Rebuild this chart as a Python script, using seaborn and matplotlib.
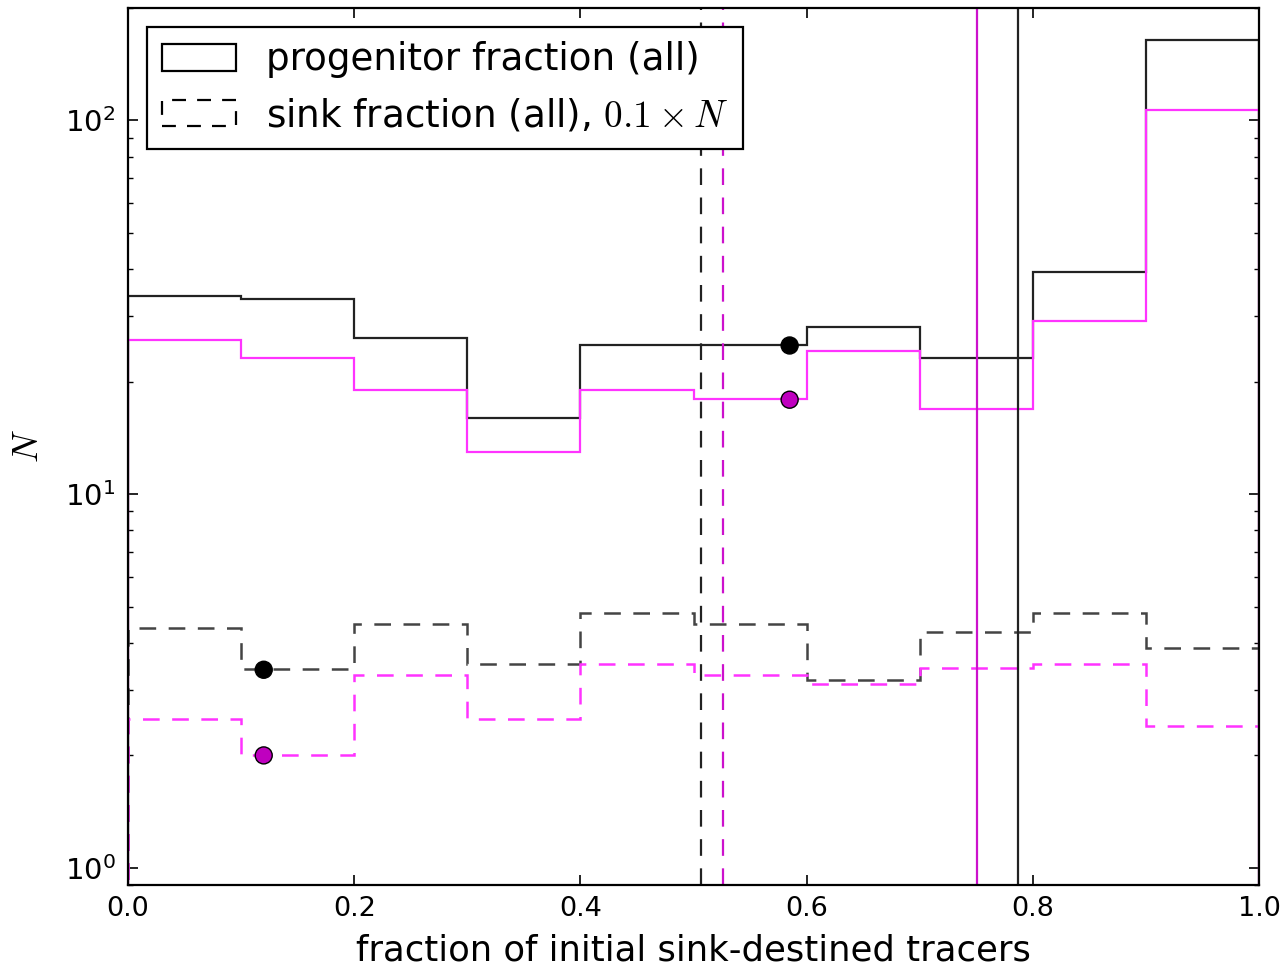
import numpy as np
import matplotlib
matplotlib.use("Agg")
import matplotlib.pyplot as plt
import seaborn as sns
from matplotlib.patches import Patch

# ---- data ----
bin_edges = [0.0, 0.1, 0.2, 0.3, 0.4, 0.5, 0.6, 0.7, 0.8, 0.9, 1.0]
prog_all = [34.0, 33.2, 26.1, 16.0, 25.0, 25.0, 28.1, 23.1, 39.2, 164.0]
prog_sub = [25.9, 23.1, 19.0, 13.0, 19.0, 18.0, 24.1, 16.9, 29.0, 107.0]
sink_all = [4.39, 3.41, 4.50, 3.52, 4.82, 4.50, 3.18, 4.28, 4.82, 3.88]
sink_sub = [2.50, 2.00, 3.29, 2.50, 3.52, 3.29, 3.11, 3.43, 3.52, 2.40]

vline_sink_all = 0.507
vline_sink_sub = 0.526
vline_prog_sub = 0.751
vline_prog_all = 0.787

dots_x = [0.585, 0.585, 0.12, 0.12]
dots_y = [25.0, 17.9, 3.39, 2.0]
dots_c = ["black", "#bf00bf", "black", "#bf00bf"]

xticks = [0.0, 0.2, 0.4, 0.6, 0.8, 1.0]
xticklabels = ["0.0", "0.2", "0.4", "0.6", "0.8", "1.0"]

# ---- style ----
sns.set_style("ticks", {"xtick.direction": "in", "ytick.direction": "in"})
plt.rcParams["font.family"] = ["DejaVu Sans"]
plt.rcParams["mathtext.fontset"] = "cm"
plt.rcParams["lines.scale_dashes"] = False
for key in ["text.color", "axes.labelcolor", "xtick.color", "ytick.color", "axes.edgecolor"]:
    plt.rcParams[key] = "black"

fig = plt.figure(figsize=(12.83, 9.66), dpi=100)
ax = fig.add_axes([128 / 1283, 1 - 885 / 966, (1259 - 128) / 1283, (885 - 8) / 966])

lw = 1.6
dash = (0, (12, 9))
k_col = "#222222"
kd_col = "#444444"
m_col = "#ff33ff"

ax.stairs(prog_all, bin_edges, baseline=0.5, color=k_col, lw=lw)
ax.stairs(prog_sub, bin_edges, baseline=0.5, color=m_col, lw=lw)
ax.stairs(sink_all, bin_edges, baseline=0.5, color=kd_col, lw=1.8, linestyle=dash)
ax.stairs(sink_sub, bin_edges, baseline=0.5, color=m_col, lw=1.8, linestyle=dash)

ax.axvline(vline_sink_all, color="#222222", lw=1.6, linestyle=dash)
ax.axvline(vline_sink_sub, color="#cc11cc", lw=1.6, linestyle=dash)
ax.axvline(vline_prog_sub, color="#cc11cc", lw=1.6)
ax.axvline(vline_prog_all, color="#222222", lw=1.6)

sns.scatterplot(x=dots_x, y=dots_y, c=dots_c, s=150, edgecolor="black",
                linewidth=1.0, ax=ax, zorder=5, legend=False)

ax.set_yscale("log")
ax.set_xlim(0, 1)
ax.set_ylim(0.9, 200)
ax.set_xticks(xticks)
ax.set_xticklabels(xticklabels)

ax.tick_params(which="both", direction="in", top=True, right=True)
ax.tick_params(axis="x", labelsize=19.5, pad=8)
ax.tick_params(axis="y", labelsize=21, pad=9)
ax.tick_params(which="major", length=7, width=1.2)
ax.tick_params(which="minor", length=3.5, width=1.0)
for s in ax.spines.values():
    s.set_linewidth(1.6)
    s.set_color("black")

ax.set_xlabel("fraction of initial sink-destined tracers", fontsize=25.5, labelpad=8)
ax.set_ylabel(r"$N$", fontsize=26, labelpad=14)

handles = [
    Patch(facecolor="none", edgecolor="black", linewidth=1.6, label="progenitor fraction (all)"),
    Patch(facecolor="none", edgecolor="black", linewidth=1.6, linestyle=(0, (10, 8)),
          label=r"sink fraction (all), $0.1\times N$"),
]
leg = ax.legend(handles=handles, loc="upper left", fontsize=26.8, fancybox=False,
                framealpha=1, edgecolor="black", borderaxespad=0.5, labelspacing=0.5)
leg.get_frame().set_linewidth(1.6)

fig.savefig("out.png", dpi=100)
